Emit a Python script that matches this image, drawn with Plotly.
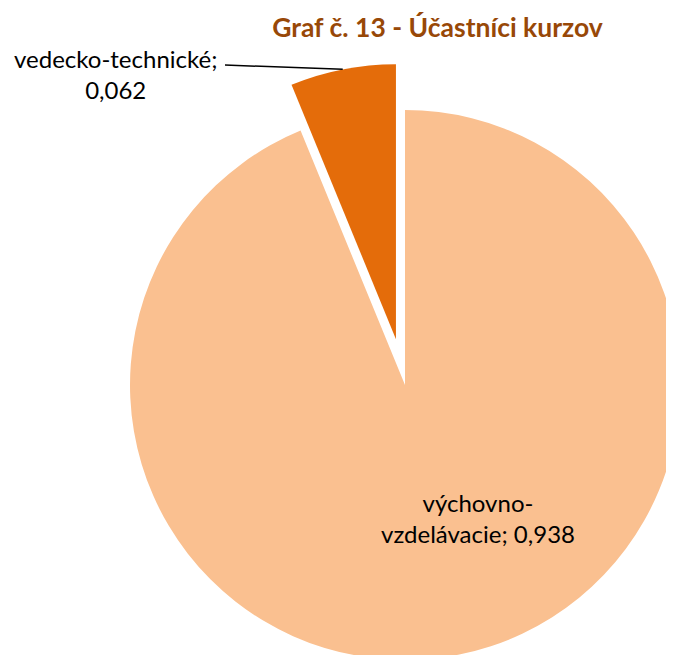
import numpy as np
import plotly.graph_objects as go

# ---- data ----
labels = ["vedecko-technické", "výchovno-vzdelávacie"]
label_lines = ["vedecko-technické;", "výchovno-<br>vzdelávacie;"]
values = [0.062, 0.938]
colors = ["#E46C0A", "#FAC090"]
title_text = "Graf č. 13 - Účastníci kurzov"

W, H = 674, 655
PULL = 0.17          # explode of the small slice (fraction of radius)
FONT = "Lato"

# big-slice pie geometry (figure pixels)
cx, cy, r = 397, 377, 275
dom_big_x = [(cx - r) / W, (cx + r) / W]
dom_big_y = [1 - (cy + r) / H, 1 - (cy - r) / H]

# first slice sits just left of 12 o'clock
frac0 = values[0] / sum(values)
ROTATION = -frac0 * 360
bis = np.deg2rad(frac0 * 360 / 2)          # bisector angle, left of vertical
scx = cx - np.sin(bis) * PULL * r
scy = cy - np.cos(bis) * PULL * r
dom_small_x = [(scx - r) / W, (scx + r) / W]
dom_small_y = [1 - (scy + r) / H, 1 - (scy - r) / H]

fig = go.Figure()
fig.add_trace(go.Pie(
    labels=labels, values=values, sort=False, direction="clockwise", rotation=ROTATION,
    marker=dict(colors=["rgba(0,0,0,0)", colors[1]], line=dict(width=0)),
    textinfo="none", hoverinfo="label+value", showlegend=False,
    domain=dict(x=dom_big_x, y=dom_big_y),
))
fig.add_trace(go.Pie(
    labels=labels, values=values, sort=False, direction="clockwise", rotation=ROTATION,
    marker=dict(colors=[colors[0], "rgba(0,0,0,0)"], line=dict(width=0)),
    textinfo="none", hoverinfo="label+value", showlegend=False,
    domain=dict(x=dom_small_x, y=dom_small_y),
))

def fmt(v):
    return f"{v:.3f}".replace(".", ",")

# leader-line tip: middle of the small slice's arc
tipx = scx - np.sin(bis) * r
tipy = scy - np.cos(bis) * r

annotations = [
    dict(text=f"{label_lines[0]}<br>{fmt(values[0])}", x=107 / W, y=1 - 66 / H,
         xref="paper", yref="paper", showarrow=False, xanchor="center", yanchor="middle",
         font=dict(family=FONT, size=24, color="#000000")),
    dict(text=f"{label_lines[1]} {fmt(values[1])}", x=470 / W, y=1 - 510 / H,
         xref="paper", yref="paper", showarrow=False, xanchor="center", yanchor="middle",
         font=dict(family=FONT, size=24, color="#000000")),
]

shapes = [dict(type="line", xref="paper", yref="paper",
               x0=217 / W, y0=1 - 57 / H, x1=tipx / W, y1=1 - tipy / H,
               line=dict(color="#000000", width=1.5))]

fig.update_layout(
    width=W, height=H,
    margin=dict(l=0, r=0, t=0, b=0),
    paper_bgcolor="#FFFFFF", plot_bgcolor="#FFFFFF",
    title=dict(text=f"<b>{title_text}</b>", x=429.5 / W, xanchor="center",
               y=1 - 20 / H, yanchor="middle", xref="paper", yref="container",
               font=dict(family=FONT, size=26.5, color="#984807")),
    annotations=annotations, shapes=shapes,
    separators=", ",
)

fig.write_html("out.html")
